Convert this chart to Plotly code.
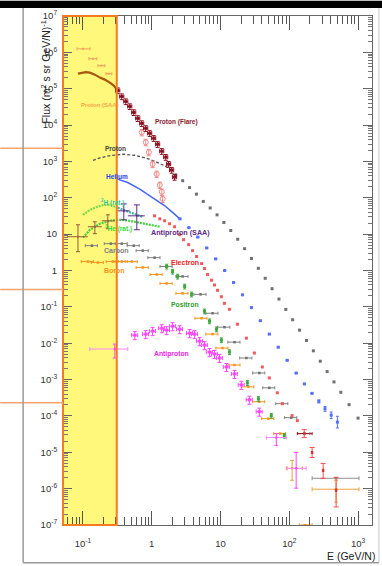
import numpy as np
import plotly.graph_objects as go

# ---------------- data (E in GeV/N, flux in (m^2 s sr GeV/N)^-1) ----------------
proton_saa_e = [0.0847, 0.0968, 0.110, 0.126, 0.149, 0.176, 0.208, 0.246, 0.281, 0.311]
proton_saa_flux = [2.59e5, 2.76e5, 2.85e5, 2.76e5, 2.44e5, 2.02e5, 1.78e5, 1.47e5, 1.22e5, 9.48e4]

proton_saa_pts_e = [0.100, 0.140, 0.185, 0.238]
proton_saa_pts_flux = [1.25e6, 6.67e5, 4.30e5, 2.59e5]
proton_saa_pts_e_lo = [0.018, 0.018, 0.020, 0.022]
proton_saa_pts_e_hi = [0.026, 0.019, 0.023, 0.025]

proton_flare_e = [0.321, 0.367, 0.420, 0.480, 0.548, 0.627, 0.716, 0.818, 0.935, 1.07,
                  1.22, 1.40, 1.60, 1.76, 1.95, 2.15]
proton_flare_flux = [8.89e4, 6.10e4, 4.45e4, 3.25e4, 2.23e4, 1.53e4, 1.11e4, 8.13e3, 5.94e3, 4.34e3,
                     2.97e3, 1.91e3, 1.31e3, 843, 578, 372]

proton_flare2_e = [0.716, 0.818, 0.906, 1.03, 1.18, 1.31, 1.40, 1.44]
proton_flare2_flux = [6.32e3, 3.37e3, 1.79e3, 843, 449, 224, 145, 93.1]

proton_lo_e = [0.140, 0.178, 0.251, 0.380, 0.562, 0.794, 1.12, 1.58, 2.00]
proton_lo_flux = [1.07e3, 1.26e3, 1.45e3, 1.58e3, 1.48e3, 1.26e3, 1.00e3, 741, 550]

proton_e = [2.24, 2.82, 3.55, 4.47, 5.62, 7.08, 8.91, 11.2, 14.1, 17.8, 22.4, 28.2, 35.5, 44.7,
            56.2, 70.8, 89.1, 112, 141, 178, 224, 282, 355, 447, 562, 741, 1000]
proton_flux = [427, 295, 191, 126, 79.4, 52.5, 33.9, 20.9, 12.6, 7.24, 3.98, 2.14, 1.15, 0.610,
               0.316, 0.164, 0.0851, 0.0442, 0.0229, 0.0119, 6.17e-3, 3.20e-3, 1.66e-3, 8.61e-4,
               4.47e-4, 2.04e-4, 8.71e-5]

helium_lo_e = [0.311, 0.447, 0.670, 1.0, 1.55, 1.95, 2.57]
helium_lo_flux = [331, 263, 174, 105, 60.3, 41.7, 26.3]

helium_e = [2.57, 3.47, 4.68, 6.31, 8.51, 11.5, 15.5, 20.9, 28.2, 38.0, 51.3, 69.2, 93.3, 126,
            166, 214, 269, 331, 407, 501]
helium_flux = [26.3, 15.1, 8.32, 4.17, 2.09, 1.0, 0.468, 0.214, 0.0955, 0.0417, 0.0178, 7.76e-3,
               3.39e-3, 1.51e-3, 7.59e-4, 4.17e-4, 2.51e-4, 1.58e-4, 1.05e-4, 6.76e-5]
helium_flux_hi = [0] * 16 + [2.5e-5, 2.4e-5, 2.3e-5, 3.0e-5]
helium_flux_lo = [0] * 16 + [2.3e-5, 2.4e-5, 2.1e-5, 2.1e-5]

pbar_saa_e = [0.393, 0.607]
pbar_saa_flux = [43.7, 31.9]
pbar_saa_flux_hi = [24.2, 31.9]
pbar_saa_flux_lo = [18.9, 18.7]
pbar_saa_e_hi = [0.087, 0.186]
pbar_saa_e_lo = [0.072, 0.158]

h2_e = [0.100, 0.126, 0.160, 0.201, 0.255, 0.321, 0.420, 0.548, 0.741]
h2_flux = [34.0, 46.6, 56.2, 63.8, 63.8, 52.8, 43.7, 36.1, 29.9]

he3_e = [0.100, 0.126, 0.176, 0.246, 0.344, 0.480, 0.670, 0.935, 1.31]
he3_flux = [7.98, 13.2, 19.3, 23.3, 24.8, 23.3, 20.5, 18.1, 16.0]

iso_e = [0.0847, 0.149, 0.230]
iso_flux = [8.49, 16.0, 23.3]
iso_flux_hi = [9.6, 5.9, 10.7]
iso_flux_lo = [5.2, 5.7, 9.2]
iso_e_hi = [0.033, 0.039, 0.061]
iso_e_lo = [0.026, 0.031, 0.042]

carbon_e = [0.135, 0.255, 0.367, 0.548, 0.741, 1.10, 1.65, 2.81, 5.13, 7.66, 11.4, 16.0, 23.8,
            36.7, 51.3, 79.4, 107, 166]
carbon_flux = [4.82, 5.47, 5.47, 4.82, 3.52, 2.26, 1.29, 0.686, 0.221, 0.0667, 0.0276, 0.0107,
               3.92e-3, 1.52e-3, 5.93e-4, 2.17e-4, 8.97e-5, 3.27e-5]
carbon_hi_e = [479]
carbon_hi_flux = [1.93e-6]
carbon_hi_e_lo = [264]
carbon_hi_e_hi = [554]

boron_e = [0.118, 0.165, 0.272, 0.367, 0.513, 0.741, 1.18, 1.65, 2.81, 5.31, 7.66, 10.7, 16.0,
           25.5, 36.7, 49.7, 74.1]
boron_flux = [1.76, 1.66, 1.76, 1.76, 1.76, 1.21, 0.776, 0.441, 0.235, 0.0486, 0.0178, 7.36e-3,
              2.52e-3, 6.32e-4, 2.46e-4, 8.43e-5, 3.27e-5]
boron_hi_e = [110, 171, 479]
boron_hi_flux = [3.61e-6, 1.0e-7, 9.64e-7]
boron_hi_e_lo = [19.4, 31, 264]
boron_hi_e_hi = [45, 44, 554]
boron_hi_flux_hi = [2.37e-6, 0, 7.4e-7]
boron_hi_flux_lo = [1.91e-6, 0, 5.4e-7]

electron_e = [1.10, 1.31, 1.54, 1.82, 2.15, 2.55, 2.91, 3.44, 3.93, 4.49, 5.31, 5.86, 6.49, 7.41,
              8.18, 9.06, 10.3, 11.4, 13.5, 17.6, 23.8, 31.1, 40.6, 51.3, 67.0, 79.3, 110, 131]
electron_flux = [31.9, 26.4, 23.3, 19.3, 16.0, 9.64, 7.05, 5.14, 3.52, 2.42, 1.55, 1.13, 0.776,
                 0.54, 0.40, 0.285, 0.19, 0.125, 0.0857, 0.0333, 0.0138, 5.37e-3, 2.22e-3,
                 1.11e-3, 4.33e-4, 2.17e-4, 1.02e-4, 7.43e-5]
electron_hi_e = [165, 215, 311, 480]
electron_hi_flux = [3.27e-5, 9.89e-6, 3.18e-6, 9.03e-7]
electron_hi_flux_hi = [0.93e-5, 3.7e-6, 1.76e-6, 1.15e-6]
electron_hi_flux_lo = [0.73e-5, 2.7e-6, 1.26e-6, 5.9e-7]
electron_hi_e_hi = [50, 0, 0, 0]
electron_hi_e_lo = [34, 0, 0, 0]

positron_e = [1.65, 2.01, 2.38, 3.01, 3.80, 5.86, 6.92, 8.75, 10.3, 13.5, 24.6, 35.6, 54.8, 84.7]
positron_flux = [1.29, 0.940, 0.686, 0.365, 0.221, 0.0757, 0.0403, 0.0243, 0.0122, 5.71e-3,
                 8.13e-4, 2.96e-4, 1.02e-4, 2.88e-5]

pbar_e = [0.568, 0.818, 1.03, 1.40, 1.65, 2.01, 2.55, 3.56, 4.20, 4.97, 5.86, 6.93, 8.18, 9.68,
          12.2, 16.0, 20.1, 26.3, 36.7]
pbar_flux = [0.0167, 0.0178, 0.0215, 0.0259, 0.0229, 0.0294, 0.0243, 0.0189, 0.0178, 0.0114,
             8.89e-3, 5.71e-3, 5.05e-3, 3.92e-3, 2.22e-3, 1.43e-3, 7.16e-4, 2.79e-4, 1.31e-4]
pbar_wide_e = [0.291, 64.9, 126]
pbar_wide_flux = [6.92e-3, 2.55e-5, 3.61e-6]
pbar_wide_e_lo = [0.165, 18.4, 32.5]
pbar_wide_e_hi = [0.158, 25.7, 50]
pbar_wide_flux_hi = [2.54e-3, 7.2e-6, 6.28e-6]
pbar_wide_flux_lo = [3.0e-3, 1.01e-5, 2.58e-6]

y_tick_vals = [1e7, 1e6, 1e5, 1e4, 1e3, 1e2, 1e1, 1e0, 1e-1, 1e-2, 1e-3, 1e-4, 1e-5, 1e-6, 1e-7]
y_tick_text = ["10<sup>7</sup>", "10<sup>6</sup>", "10<sup>5</sup>", "10<sup>4</sup>", "10<sup>3</sup>",
               "10<sup>2</sup>", "10", "1", "10<sup>-1</sup>", "10<sup>-2</sup>", "10<sup>-3</sup>",
               "10<sup>-4</sup>", "10<sup>-5</sup>", "10<sup>-6</sup>", "10<sup>-7</sup>"]
x_tick_vals = [0.1, 1, 10, 100, 1000]
x_tick_text = ["10<sup>-1</sup>", "1", "10", "10<sup>2</sup>", "10<sup>3</sup>"]

labels = [
    ("Proton (SAA)", 0.176, 3.68e4, "#f5a54a", 6),
    ("Proton (Flare)", 2.30, 1.19e4, "#8b1a2e", 6.5),
    ("Proton", 0.301, 2.31e3, "#444444", 6.5),
    ("Helium", 0.311, 395, "#2244ee", 6.5),
    ("<sup>2</sup>H (rat.)", 0.272, 72.3, "#33cc99", 6.5),
    ("<sup>3</sup>He (rat.)", 0.333, 14.1, "#33dd33", 6.5),
    ("Antiproton (SAA)", 2.63, 10.9, "#5e2a84", 7.2),
    ("Carbon", 0.311, 3.52, "#808080", 7),
    ("Boron", 0.291, 1.0, "#f7941d", 7),
    ("Electron", 3.01, 1.66, "#ee2222", 7),
    ("Positron", 3.01, 0.117, "#2e9e2e", 6.8),
    ("Antiproton", 1.95, 5.05e-3, "#ee22ee", 6.8),
]

# ---------------- figure ----------------
fig = go.Figure()


def errbar(plus=None, minus=None, pct=None, color="#000", width=1.5):
    if pct is not None:
        return dict(type="percent", value=pct, color=color, thickness=1, width=width)
    return dict(type="data", array=plus, arrayminus=minus, color=color, thickness=1, width=width)


# Proton (SAA)
fig.add_trace(go.Scatter(x=proton_saa_e, y=proton_saa_flux, mode="lines",
                         line=dict(color="#a8580e", width=2.2)))
fig.add_trace(go.Scatter(x=proton_saa_pts_e, y=proton_saa_pts_flux, mode="markers",
                         marker=dict(color="#f0a060", size=2, symbol="square"),
                         error_x=errbar(proton_saa_pts_e_hi, proton_saa_pts_e_lo, color="#f0a060")))

# Proton curve
fig.add_trace(go.Scatter(x=proton_lo_e, y=proton_lo_flux, mode="lines",
                         line=dict(color="#555555", width=1.3, dash="3px,2px")))
fig.add_trace(go.Scatter(x=proton_e, y=proton_flux, mode="markers",
                         marker=dict(color="#707070", size=3, symbol="square")))

# Helium
fig.add_trace(go.Scatter(x=helium_lo_e, y=helium_lo_flux, mode="lines",
                         line=dict(color="#4466ff", width=1.5)))
fig.add_trace(go.Scatter(x=helium_e, y=helium_flux, mode="markers",
                         marker=dict(color="#5570ff", size=3, symbol="square"),
                         error_y=errbar(helium_flux_hi, helium_flux_lo, color="#5570ff")))

# 2H and 3He ratios
fig.add_trace(go.Scatter(x=h2_e[:6], y=h2_flux[:6], mode="lines",
                         line=dict(color="#7ada50", width=2.2, dash="2px,1px")))
fig.add_trace(go.Scatter(x=h2_e[5:], y=h2_flux[5:], mode="lines",
                         line=dict(color="#36b8b0", width=2.2, dash="2px,1px")))
fig.add_trace(go.Scatter(x=he3_e, y=he3_flux, mode="lines",
                         line=dict(color="#44d040", width=2.2, dash="2px,1px")))
fig.add_trace(go.Scatter(x=iso_e, y=iso_flux, mode="markers",
                         marker=dict(color="#9c5a3c", size=2),
                         error_y=errbar(iso_flux_hi, iso_flux_lo, color="#9c5a3c", width=2),
                         error_x=errbar(iso_e_hi, iso_e_lo, color="#9c5a3c", width=0)))

# Carbon
fig.add_trace(go.Scatter(x=carbon_e, y=carbon_flux, mode="markers",
                         marker=dict(color="#707070", size=2.5, symbol="square"),
                         error_x=errbar(pct=20, color="#808080", width=1.5)))
fig.add_trace(go.Scatter(x=carbon_hi_e, y=carbon_hi_flux, mode="markers",
                         marker=dict(color="#707070", size=2.5),
                         error_x=errbar(carbon_hi_e_hi, carbon_hi_e_lo, color="#909090", width=2)))

# Boron
fig.add_trace(go.Scatter(x=boron_e, y=boron_flux, mode="markers",
                         marker=dict(color="#f7941d", size=2.5, symbol="square"),
                         error_x=errbar(pct=20, color="#f7941d", width=1.5)))
fig.add_trace(go.Scatter(x=boron_hi_e, y=boron_hi_flux, mode="markers",
                         marker=dict(color="#f7941d", size=2.5),
                         error_x=errbar(boron_hi_e_hi, boron_hi_e_lo, color="#f7a040", width=2),
                         error_y=errbar(boron_hi_flux_hi, boron_hi_flux_lo, color="#f7a040", width=2)))

# Proton (Flare)
fig.add_trace(go.Scatter(x=proton_flare2_e, y=proton_flare2_flux, mode="markers",
                         marker=dict(color="rgba(0,0,0,0)", size=5, symbol="circle",
                                     line=dict(color="#f28a8a", width=1)),
                         error_y=errbar(pct=20, color="#f28a8a", width=2)))
fig.add_trace(go.Scatter(x=proton_flare_e, y=proton_flare_flux, mode="markers",
                         marker=dict(color="#8b1020", size=3, symbol="square"),
                         error_y=errbar(pct=18, color="#8b1020", width=2),
                         error_x=errbar(pct=7, color="#8b1020", width=2)))

# Antiproton (SAA)
fig.add_trace(go.Scatter(x=pbar_saa_e, y=pbar_saa_flux, mode="markers",
                         marker=dict(color="#5e2a84", size=2),
                         error_y=errbar(pbar_saa_flux_hi, pbar_saa_flux_lo, color="#5e2a84", width=3),
                         error_x=errbar(pbar_saa_e_hi, pbar_saa_e_lo, color="#5e2a84", width=0)))

# Electron
fig.add_trace(go.Scatter(x=electron_e, y=electron_flux, mode="markers",
                         marker=dict(color="#f25a5a", size=3, symbol="square")))
fig.add_trace(go.Scatter(x=electron_hi_e, y=electron_hi_flux, mode="markers",
                         marker=dict(color="#e03030", size=2.5, symbol="square"),
                         error_y=errbar(electron_hi_flux_hi, electron_hi_flux_lo, color="#f05050", width=2.5),
                         error_x=errbar(electron_hi_e_hi, electron_hi_e_lo, color="#a01818", width=1.5)))

# Positron
fig.add_trace(go.Scatter(x=positron_e, y=positron_flux, mode="markers",
                         marker=dict(color="#3aa83a", size=3, symbol="square"),
                         error_y=errbar(pct=15, color="#3aa83a", width=1.5)))

# Antiproton
fig.add_trace(go.Scatter(x=pbar_e, y=pbar_flux, mode="markers",
                         marker=dict(color="#ff44ff", size=3, symbol="square"),
                         error_y=errbar(pct=25, color="#ff44ff", width=2),
                         error_x=errbar(pct=10, color="#ff44ff", width=2)))
fig.add_trace(go.Scatter(x=pbar_wide_e, y=pbar_wide_flux, mode="markers",
                         marker=dict(color="#ff44ff", size=2.5),
                         error_y=errbar(pbar_wide_flux_hi, pbar_wide_flux_lo, color="#ff44ff", width=2),
                         error_x=errbar(pbar_wide_e_hi, pbar_wide_e_lo, color="#ff88ff", width=2)))

# ---------------- labels ----------------
for text, e, f, col, size in labels:
    fig.add_annotation(x=np.log10(e), y=np.log10(f), text="<b>" + text + "</b>", showarrow=False,
                       xanchor="center", yanchor="middle",
                       font=dict(family="Liberation Sans, Arial, sans-serif", size=size, color=col))

fig.add_annotation(xref="paper", yref="paper", x=-0.058, y=0.889, textangle=-90,
                   text="Flux (m<sup>2</sup> s sr GeV/N)<sup>-1</sup>", showarrow=False,
                   xanchor="center", yanchor="middle",
                   font=dict(family="Liberation Sans, Arial, sans-serif", size=10.5, color="#222"))
fig.add_annotation(xref="paper", yref="paper", x=1.016, y=-0.0605, text="E (GeV/N)",
                   showarrow=False, xanchor="right", yanchor="middle",
                   font=dict(family="Liberation Sans, Arial, sans-serif", size=10.5, color="#222"))

# ---------------- decorations ----------------
band_x1 = 0.174  # paper fraction of the highlighted low-energy region
fig.add_shape(type="rect", xref="paper", yref="paper", x0=0, x1=band_x1, y0=0, y1=1,
              fillcolor="#fff87a", line=dict(width=0), layer="below")
fig.add_shape(type="rect", xref="paper", yref="paper", x0=0, x1=band_x1, y0=0, y1=1,
              fillcolor="rgba(0,0,0,0)", line=dict(color="#f47b20", width=2), layer="above")
for yp in [0.7402, 0.4629, 0.2402]:
    fig.add_shape(type="line", xref="paper", yref="paper", x0=-0.2032, x1=0, y0=yp, y1=yp,
                  line=dict(color="#f4a46a", width=1.5))
# outer frame and top bar
fig.add_shape(type="line", xref="paper", yref="paper", x0=-0.129, x1=-0.129, y0=-0.0742, y1=1.02,
              line=dict(color="#9a9a9a", width=1.5))
fig.add_shape(type="line", xref="paper", yref="paper", x0=-0.129, x1=1.0226, y0=-0.0742, y1=-0.0742,
              line=dict(color="#9a9a9a", width=1.5))
fig.add_shape(type="line", xref="paper", yref="paper", x0=1.0226, x1=1.0226, y0=-0.0742, y1=1.02,
              line=dict(color="#c8c8c8", width=1))
fig.add_shape(type="rect", xref="paper", yref="paper", x0=-0.21, x1=1.04, y0=1.0156, y1=1.03,
              fillcolor="#000000", line=dict(width=0))

minor_vals = [k * 10.0 ** n for n in range(-8, 8) for k in range(2, 10)]

fig.update_xaxes(type="log", range=[-1.29, 3.203], tickvals=x_tick_vals, ticktext=x_tick_text,
                 ticks="inside", ticklen=14, tickcolor="#555", showline=True, linecolor="#666",
                 linewidth=1, mirror="ticks", showgrid=False, zeroline=False,
                 ticklabelstandoff=10,
                 tickfont=dict(family="Liberation Sans, Arial, sans-serif", size=9.5, color="#333"),
                 minor=dict(ticks="inside", ticklen=8, tickcolor="#555", tickvals=minor_vals,
                            showgrid=False))
fig.update_yaxes(type="log", range=[-7, 7], tickvals=y_tick_vals, ticktext=y_tick_text,
                 ticks="inside", ticklen=9, tickcolor="#666", showline=True, linecolor="#666",
                 linewidth=1, mirror="ticks", showgrid=False, zeroline=False,
                 ticklabelstandoff=3,
                 tickfont=dict(family="Liberation Sans, Arial, sans-serif", size=9.5, color="#333"),
                 minor=dict(ticks="inside", ticklen=4.5, tickcolor="#777", tickvals=minor_vals,
                            showgrid=False))

fig.update_layout(width=382, height=566, margin=dict(l=63, r=9, t=13, b=41),
                  showlegend=False, plot_bgcolor="white", paper_bgcolor="white",
                  font=dict(family="Liberation Sans, Arial, sans-serif"))

fig.write_html("out.html", config={"displayModeBar": False},
               post_script="document.body.style.margin='0';")
